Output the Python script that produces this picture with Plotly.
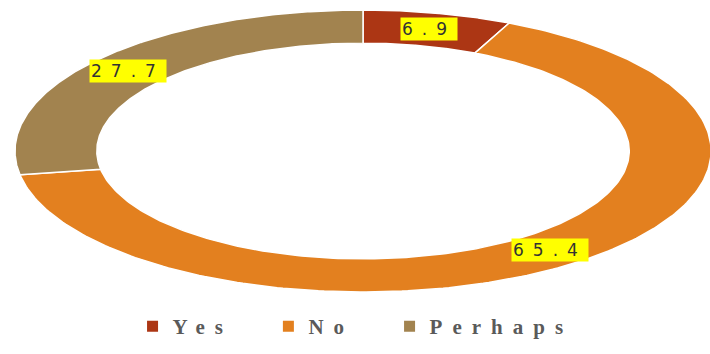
import numpy as np
import plotly.graph_objects as go

# Survey answers (percent)
categories = ["Yes", "No", "Perhaps"]
values = [6.9, 65.4, 27.7]
colors = ["#AC3614", "#E3801F", "#A2834F"]

HOLE = 0.765  # inner radius relative to the outer ring
NBSP = "\u00a0"

fig = go.Figure()

total = sum(values)
start = 0.0
annotations = []
for i, (name, val, col) in enumerate(zip(categories, values, colors)):
    a0 = start / total * 2 * np.pi
    a1 = (start + val) / total * 2 * np.pi
    t = np.linspace(a0, a1, 240)
    # clockwise from 12 o'clock
    xo, yo = np.sin(t), np.cos(t)
    xi, yi = HOLE * np.sin(t[::-1]), HOLE * np.cos(t[::-1])
    xs = np.concatenate([xo, xi, xo[:1]])
    ys = np.concatenate([yo, yi, yo[:1]])
    fig.add_trace(go.Scatter(
        x=xs, y=ys, mode="lines", fill="toself", name=name,
        fillcolor=col, line=dict(color="white", width=1.5),
        hoverinfo="name", showlegend=False,
    ))
    # legend swatch (extra gap after all but the last entry)
    pad = NBSP * 2 if i < len(categories) - 1 else ""
    fig.add_trace(go.Scatter(
        x=[None], y=[None], mode="markers",
        name=f"<b><span style='letter-spacing:10px'>{name}{pad}</span></b>",
        marker=dict(symbol="square", size=11, color=col), showlegend=True,
    ))
    mid = (a0 + a1) / 2
    r = (1 + HOLE) / 2
    annotations.append(dict(
        x=r * np.sin(mid), y=r * np.cos(mid), xref="x", yref="y",
        text=f"<span style='letter-spacing:9px'>{val}</span>",
        showarrow=False, bgcolor="#FFFF00", borderpad=1,
        font=dict(family="DejaVu Sans", size=17, color="#333333"),
    ))
    start += val

fig.update_layout(
    width=710, height=354,
    margin=dict(l=15, r=0, t=10, b=62),
    paper_bgcolor="white", plot_bgcolor="white",
    xaxis=dict(range=[-1.0, 0.997], visible=False, fixedrange=True),
    yaxis=dict(range=[-1.0, 1.0], visible=False, fixedrange=True),
    annotations=annotations,
    showlegend=True,
    legend=dict(
        orientation="h", x=0.49, xanchor="center", y=-0.05, yanchor="top",
        font=dict(family="Liberation Serif", size=21, color="#5A5A5A"),
        itemwidth=30,
    ),
)

fig.write_html("out.html")
